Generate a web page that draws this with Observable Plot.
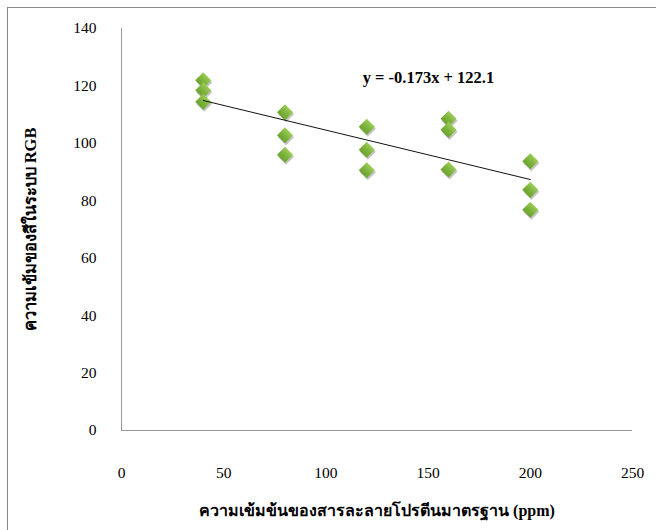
<!DOCTYPE html>
<html><head><meta charset="utf-8">
<script src="https://cdn.jsdelivr.net/npm/d3@7"></script>
<script src="https://cdn.jsdelivr.net/npm/@observablehq/plot@0.6"></script>
<style>
html,body{margin:0;padding:0;background:#fff;}
#wrap{position:relative;width:656px;height:530px;overflow:hidden;}
#border{position:absolute;left:7px;top:7px;width:700px;height:600px;border:1.5px solid #888;box-sizing:border-box;}
#chart{position:absolute;left:0;top:0;}
</style></head>
<body><div id="wrap"><div id="border"></div><div id="chart"></div></div>
<script>
const concentration = [40,40,40, 80,80,80, 120,120,120, 160,160,160, 200,200,200];
const intensity = [122,118.5,114.5, 110.8,102.8,96, 105.8,97.8,90.6, 108.6,104.7,90.9, 93.8,83.8,76.9];
const xTicks = [0,50,100,150,200,250];
const yTicks = [0,20,40,60,80,100,120,140];
const xLabel = "ความเข้มข้นของสารละลายโปรตีนมาตรฐาน (ppm)";
const yLabel = "ความเข้มของสีในระบบ RGB";
const equation = ["y = -0.173x + 122.1"];
const eqPos = {x: 118, y: 123};

const data = concentration.map((c,i)=>({c, v: intensity[i]}));
const font = "'Liberation Serif','Times New Roman',serif";

const chart = Plot.plot({
  width: 656, height: 530,
  marginLeft: 121, marginRight: 24, marginTop: 28, marginBottom: 100,
  style: {fontFamily: font, background: "transparent"},
  x: {domain: [0,250]},
  y: {domain: [0,140]},
  marks: [
    Plot.ruleX([0], {stroke: "#999", strokeWidth: 1}),
    Plot.ruleY([0], {stroke: "#999", strokeWidth: 1}),
    Plot.axisX(xTicks, {tickSize: 0, tickPadding: 36, fontSize: 15.5, fill: "#000", label: null}),
    Plot.axisY(yTicks, {tickSize: 0, tickPadding: 25, fontSize: 15.5, fill: "#000", label: null}),
    Plot.dot(data, {x: "c", y: "v", symbol: "square", r: 6.4, rotate: 45, fill: "#555", fillOpacity: 0.35, dx: 1, dy: 2}),
    Plot.dot(data, {x: "c", y: "v", symbol: "square", r: 6.4, rotate: 45, fill: "url(#grn)"}),
    Plot.linearRegressionY(data, {x: "c", y: "v", stroke: "#111", strokeWidth: 1, ci: 0}),
    Plot.text(equation, {x: () => eqPos.x, y: () => eqPos.y, textAnchor: "start", fontSize: 16.5, fontWeight: "bold", fill: "#000"}),
    Plot.text([xLabel], {frameAnchor: "bottom", dy: 85, fontSize: 16, fontWeight: "bold", fill: "#000"}),
    Plot.text([yLabel], {frameAnchor: "left", textAnchor: "middle", dx: -91, rotate: -90, fontSize: 16.5, fontWeight: "bold", fill: "#000"})
  ]
});
const ns = "http://www.w3.org/2000/svg";
const defs = document.createElementNS(ns, "defs");
defs.innerHTML = '<linearGradient id="grn" x1="0" y1="0" x2="0" y2="1"><stop offset="0" stop-color="#9ccd57"/><stop offset="0.5" stop-color="#7fb53e"/><stop offset="1" stop-color="#6aa32e"/></linearGradient>';
chart.insertBefore(defs, chart.firstChild);
document.getElementById("chart").appendChild(chart);
</script></body></html>
